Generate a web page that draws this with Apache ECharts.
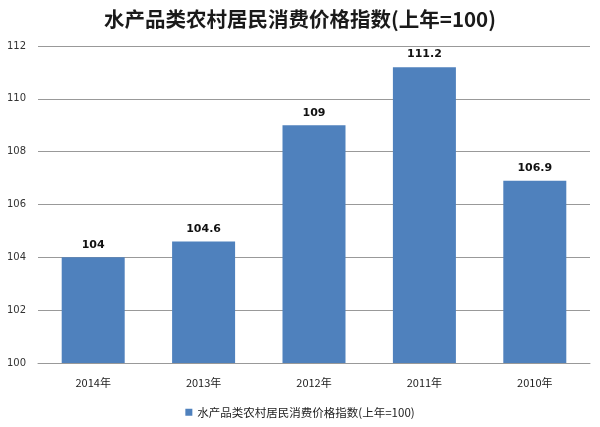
<!DOCTYPE html>
<html><head><meta charset="utf-8">
<script src="https://cdn.jsdelivr.net/npm/echarts@6/dist/echarts.min.js"></script>
<style>html,body{margin:0;padding:0;background:#fff}#c{width:600px;height:427px}</style>
</head><body><div id="c"></div>
<script>
var categories = ['2014年','2013年','2012年','2011年','2010年'];
var values = [104, 104.6, 109, 111.2, 106.9];
var seriesName = '水产品类农村居民消费价格指数(上年=100)';
var titleText = '水产品类农村居民消费价格指数(上年=100)';
var chart = echarts.init(document.getElementById('c'));
chart.setOption({
  backgroundColor:'#fff',
  animation:false,
  title:{text:titleText,left:'center',top:4,textStyle:{fontFamily:'Noto Sans CJK SC',fontSize:20.5,fontWeight:'bold',color:'#1a1a1a'}},
  legend:{bottom:4,left:'center',itemWidth:7,itemHeight:7,icon:'rect',itemGap:4,
    textStyle:{fontFamily:'Noto Sans CJK SC',fontSize:11.5,color:'#222'}},
  grid:{left:38,right:10,top:46,bottom:64},
  xAxis:{type:'category',data:categories,
    axisLine:{show:true,lineStyle:{color:'#999'}},axisTick:{show:false},
    axisLabel:{margin:14,fontFamily:'Noto Sans CJK SC',fontSize:11,color:'#222'}},
  yAxis:{type:'value',min:100,max:112,interval:2,
    axisLine:{show:false},axisTick:{show:false},
    splitLine:{lineStyle:{color:'#999',width:1}},
    axisLabel:{margin:12,fontFamily:'DejaVu Sans',fontSize:10,color:'#333'}},
  series:[{name:seriesName,type:'bar',data:values,barWidth:63,
    itemStyle:{color:'#4F81BD'},
    label:{show:true,position:'top',distance:7,fontFamily:'DejaVu Sans',fontSize:11,fontWeight:'bold',color:'#111'}}]
});
</script></body></html>
